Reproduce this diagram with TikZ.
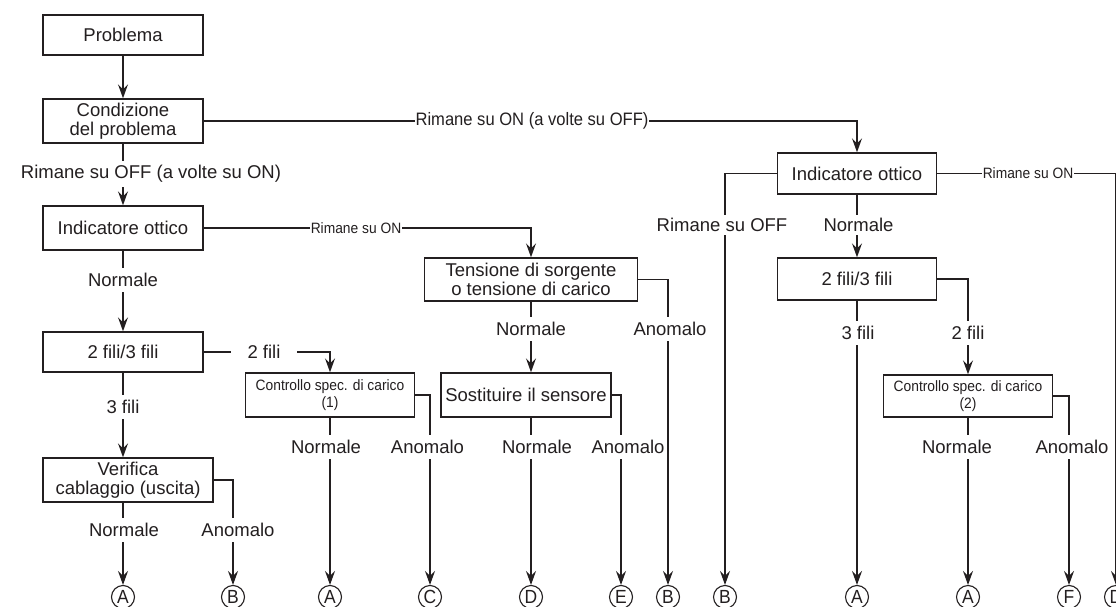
\documentclass[tikz,border=0pt]{standalone}
\usepackage{fontspec}
\setmainfont{Liberation Sans}
\newfontfamily\condfont[FakeStretch=0.92]{Liberation Sans}
\usetikzlibrary{arrows.meta}
\definecolor{ink}{HTML}{231F20}
\begin{document}
\begin{tikzpicture}[x=1pt,y=-1pt,
  box/.style={draw=ink, line width=1.4pt, inner sep=0pt, align=center, text=ink, font=\fontsize{18.5}{18.5}\selectfont},
  cbox/.style={box, font=\condfont\fontsize{15}{17.5}\selectfont},
  lbl/.style={fill=white, text=ink, inner xsep=1.5pt, inner ysep=5pt, font=\fontsize{18.5}{18.5}\selectfont},
  clbl/.style={fill=white, text=ink, inner xsep=1pt, inner ysep=2pt, font=\condfont\fontsize{15}{15}\selectfont},
  blbl/.style={fill=white, text=ink, inner xsep=1pt, inner ysep=2pt, font=\condfont\fontsize{18}{18}\selectfont},
  term/.style={circle, draw=ink, line width=1.1pt, minimum size=23pt, inner sep=0pt, text=ink, font=\condfont\fontsize{19}{19}\selectfont},
  conn/.style={draw=ink, line width=1.4pt},
  arr/.style={conn, -{Stealth[length=14pt,width=10pt,inset=5pt]}}
]
\useasboundingbox (0,0) rectangle (1116,607);
\fill[white] (0,0) rectangle (1116,607);

% boxes
\node[box, minimum width=160pt, minimum height=40pt] (prob) at (123,35) {Problema};
\node[box, minimum width=160pt, minimum height=44pt] (cond) at (123,121) {Condizione\\del problema};
\node[box, minimum width=160pt, minimum height=44pt] (ind1) at (123,228) {Indicatore ottico};
\node[box, minimum width=160pt, minimum height=40pt] (fili1) at (123,352) {2 fili/3 fili};
\node[box, minimum width=170pt, minimum height=44pt] (ver) at (128,480) {Verifica\\cablaggio (uscita)};
\node[cbox, minimum width=169pt, minimum height=44pt] (ctl1) at (330,395) {Controllo spec. di carico\\(1)};
\node[box, minimum width=213pt, minimum height=43pt] (ten) at (531,279.5) {Tensione di sorgente\\o tensione di carico};
\node[box, minimum width=170pt, minimum height=44pt] (sost) at (526,395) {Sostituire il sensore};
\node[box, minimum width=159pt, minimum height=41pt] (ind2) at (857,173.5) {Indicatore ottico};
\node[box, minimum width=159pt, minimum height=42pt] (fili2) at (857,279) {2 fili/3 fili};
\node[cbox, minimum width=169pt, minimum height=42pt] (ctl2) at (968,396) {Controllo spec. di carico\\(2)};

% terminals
\node[term] (A1) at (123,597) {A};
\node[term] (B1) at (233,597) {B};
\node[term] (A2) at (330,597) {A};
\node[term] (C1) at (430,597) {C};
\node[term] (D1) at (531,597) {D};
\node[term] (E1) at (621,597) {E};
\node[term] (B2) at (668,597) {B};
\node[term] (B3) at (725,597) {B};
\node[term] (A3) at (857,597) {A};
\node[term] (A4) at (968,597) {A};
\node[term] (F1) at (1069,597) {F};
\node[term] (D2) at (1116,597) {D};

% connectors
\draw[arr] (prob) -- (cond);
\draw[arr] (cond) -- (ind1);
\draw[arr] (cond.east) -| (ind2.north);
\draw[arr] (ind1) -- (fili1);
\draw[arr] (ind1.east) -| (ten.north);
\draw[arr] (fili1.south) -- (fili1.south |- ver.north);
\draw[arr] (fili1.east) -| (ctl1.north);
\draw[arr] (ver.south -| A1) -- (A1.north);
\draw[arr] (ver.east) -| (B1.north);
\draw[arr] (ctl1) -- (A2);
\draw[arr] (ctl1.east) -| (C1.north);
\draw[arr] (ten.south) -- (ten.south |- sost.north);
\draw[arr] (ten.east) -| (B2.north);
\draw[arr] (sost.south -| D1) -- (D1.north);
\draw[arr] (sost.east) -| (E1.north);
\draw[arr] (ind2.west) -| (B3.north);
\draw[arr] (ind2) -- (fili2);
\draw[arr] (ind2.east) -| (D2.north);
\draw[arr] (fili2) -- (A3);
\draw[arr] (fili2.east) -| (ctl2.north);
\draw[arr] (ctl2) -- (A4);
\draw[arr] (ctl2.east) -| (F1.north);

% labels
\node[lbl, inner ysep=4pt] (l1) at (151,174) {Rimane su OFF (a volte su ON)};
\node[blbl] (l2) at (532,121) {Rimane su ON (a volte su OFF)};
\node[clbl] (l3) at (356,228) {Rimane su ON};
\node[clbl] (l4) at (1028,173.5) {Rimane su ON};
\node[lbl] (l5) at (123,280) {Normale};
\node[lbl] (l6) at (123,407) {3 fili};
\node[lbl, inner xsep=17pt, inner ysep=3pt] (l7) at (264,352) {2 fili};
\node[lbl] (l8) at (124,530) {Normale};
\node[lbl] (l9) at (238,530) {Anomalo};
\node[lbl] (l10) at (326,447) {Normale};
\node[lbl] (l11) at (427.5,447) {Anomalo};
\node[lbl] (l12) at (531,329) {Normale};
\node[lbl] (l13) at (670,329) {Anomalo};
\node[lbl] (l14) at (537,447) {Normale};
\node[lbl] (l15) at (628,447) {Anomalo};
\node[lbl, inner ysep=3pt] (l16) at (722,225) {Rimane su OFF};
\node[lbl, inner ysep=3pt] (l17) at (858.5,225) {Normale};
\node[lbl] (l18) at (858,333) {3 fili};
\node[lbl] (l19) at (968,333) {2 fili};
\node[lbl] (l20) at (957,447) {Normale};
\node[lbl] (l21) at (1072,447) {Anomalo};
\end{tikzpicture}
\end{document}
